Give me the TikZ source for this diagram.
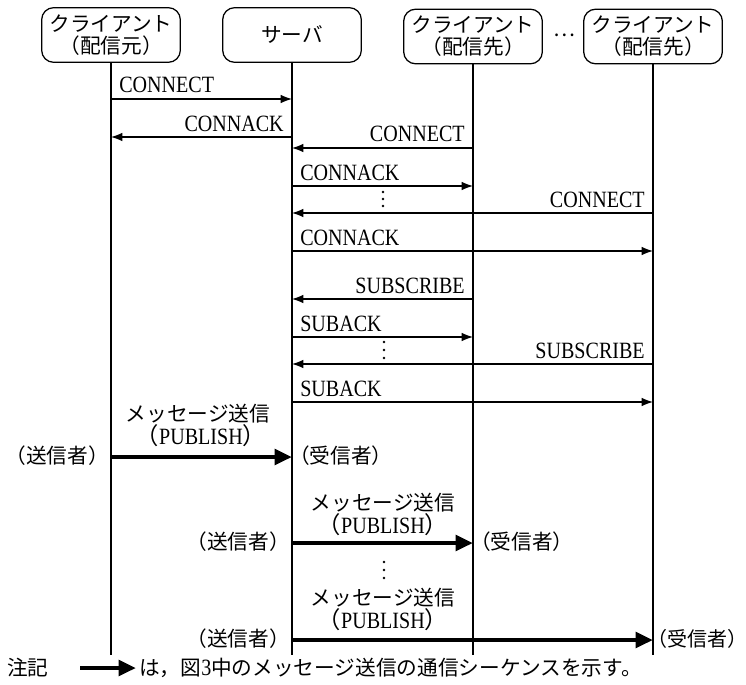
\documentclass[tikz,border=0pt]{standalone}
\usepackage{fontspec}
\setmainfont{Liberation Serif}
\newfontfamily\lat[FakeStretch=0.86]{Liberation Serif}
\newfontfamily\jp{Noto Sans CJK JP}
\usetikzlibrary{arrows.meta}
\newcommand{\rpar}{\makebox[0.5em][l]{）}}
\begin{document}
\begin{tikzpicture}[x=0.75pt,y=-0.75pt,
  every node/.style={inner sep=0pt},
  base/.style={font=\lat\fontsize{17.5}{18}\selectfont},
  jtext/.style={font=\jp\fontsize{15.5}{16.5}\selectfont},
  hdr/.style={draw, line width=0.95pt, rounded corners=9pt, minimum width=104pt,
    minimum height=41pt, align=center, jtext},
  life/.style={line width=0.95pt},
  msg/.style={line width=0.95pt, -{Latex[length=8.5pt,width=6.5pt]}},
  pub/.style={line width=3.6pt, -{Triangle[length=13pt,width=11.5pt]}},
  lblL/.style={base, anchor=base west},
  lblR/.style={base, anchor=base east},
  pl/.style={jtext, anchor=center},
  dotc/.style={fill=black}
]
\useasboundingbox (0,0) rectangle (746,685);

% header boxes
\node[hdr] (b1) at (111,35) {クライアント\\（配信元）};
\node[hdr] (b2) at (292,35) {サーバ};
\node[hdr] (b3) at (473,36.5) {クライアント\\（配信先）};
\node[hdr] (b4) at (653,36.5) {クライアント\\（配信先）};
\node[jtext] (dd) at (564,35) {…};

% lifelines
\coordinate (e1) at (b1 |- 0,655);
\coordinate (e2) at (b2 |- 0,655);
\coordinate (e3) at (b3 |- 0,655);
\coordinate (e4) at (b4 |- 0,655);
\draw[life] (b1.south) -- (e1);
\draw[life] (b2.south) -- (e2);
\draw[life] (b3.south) -- (e3);
\draw[life] (b4.south) -- (e4);

% CONNECT / CONNACK
\draw[msg] (b1 |- 0,99) -- (b2 |- 0,99);
\node[lblL] (t1) at (119,93) {CONNECT};
\draw[msg] (b2 |- 0,137) -- (b1 |- 0,137);
\node[lblR] (t2) at (284,131) {CONNACK};
\draw[msg] (b3 |- 0,148) -- (b2 |- 0,148);
\node[lblR] (t3) at (465,142) {CONNECT};
\draw[msg] (b2 |- 0,186) -- (b3 |- 0,186);
\node[lblL] (t4) at (300,180) {CONNACK};
\foreach \yy in {192,199,206} \fill[dotc] (383,\yy) circle (1.3);
\draw[msg] (b4 |- 0,213) -- (b2 |- 0,213);
\node[lblR] (t5) at (645,207) {CONNECT};
\draw[msg] (b2 |- 0,251) -- (b4 |- 0,251);
\node[lblL] (t6) at (300,245) {CONNACK};

% SUBSCRIBE / SUBACK
\draw[msg] (b3 |- 0,299) -- (b2 |- 0,299);
\node[lblR] (t7) at (465,293) {SUBSCRIBE};
\draw[msg] (b2 |- 0,337) -- (b3 |- 0,337);
\node[lblL] (t8) at (300,331) {SUBACK};
\foreach \yy in {342,350,358} \fill[dotc] (384,\yy) circle (1.3);
\draw[msg] (b4 |- 0,364) -- (b2 |- 0,364);
\node[lblR] (t9) at (645,358) {SUBSCRIBE};
\draw[msg] (b2 |- 0,402) -- (b4 |- 0,402);
\node[lblL] (t10) at (300,396) {SUBACK};

% PUBLISH 1
\node[pl] (m1a) at (198,414) {メッセージ送信};
\node[base] (m1b) at (201,436) {{\jp （}PUBLISH{\jp ）}};
\node[jtext, anchor=east] (s1) at (109,456) {（送信者）};
\node[jtext, anchor=west] (r1) at (289,456) {（受信者）};
\draw[pub] (b1 |- 0,457) -- (b2 |- 0,457);

% PUBLISH 2
\node[pl] (m2a) at (383,503) {メッセージ送信};
\node[base] (m2b) at (383,525) {{\jp （}PUBLISH{\jp ）}};
\node[jtext, anchor=east] (s2) at (290,542) {（送信者）};
\node[jtext, anchor=west] (r2) at (470,542) {（受信者）};
\draw[pub] (b2 |- 0,543) -- (b3 |- 0,543);
\foreach \yy in {562,570,578} \fill[dotc] (384,\yy) circle (1.3);

% PUBLISH 3
\node[pl] (m3a) at (383,598) {メッセージ送信};
\node[base] (m3b) at (383,620) {{\jp （}PUBLISH{\jp ）}};
\node[jtext, anchor=east] (s3) at (290,639) {（送信者）};
\node[jtext, anchor=west, font=\jp\fontsize{15}{16}\selectfont] (r3) at (647,639) {（受信者\rpar};
\draw[pub] (b2 |- 0,640) -- (b4 |- 0,640);

% note
\node[jtext, anchor=west] (n0) at (7,668) {注記};
\coordinate (na) at (80,668);
\coordinate (nb) at (136,668);
\draw[pub] (na) -- (nb);
\node[jtext, anchor=west] (n1) at (139,668) {は，図{\lat\fontsize{17.5}{18}\selectfont 3}中のメッセージ送信の通信シーケンスを示す。};
\end{tikzpicture}
\end{document}
